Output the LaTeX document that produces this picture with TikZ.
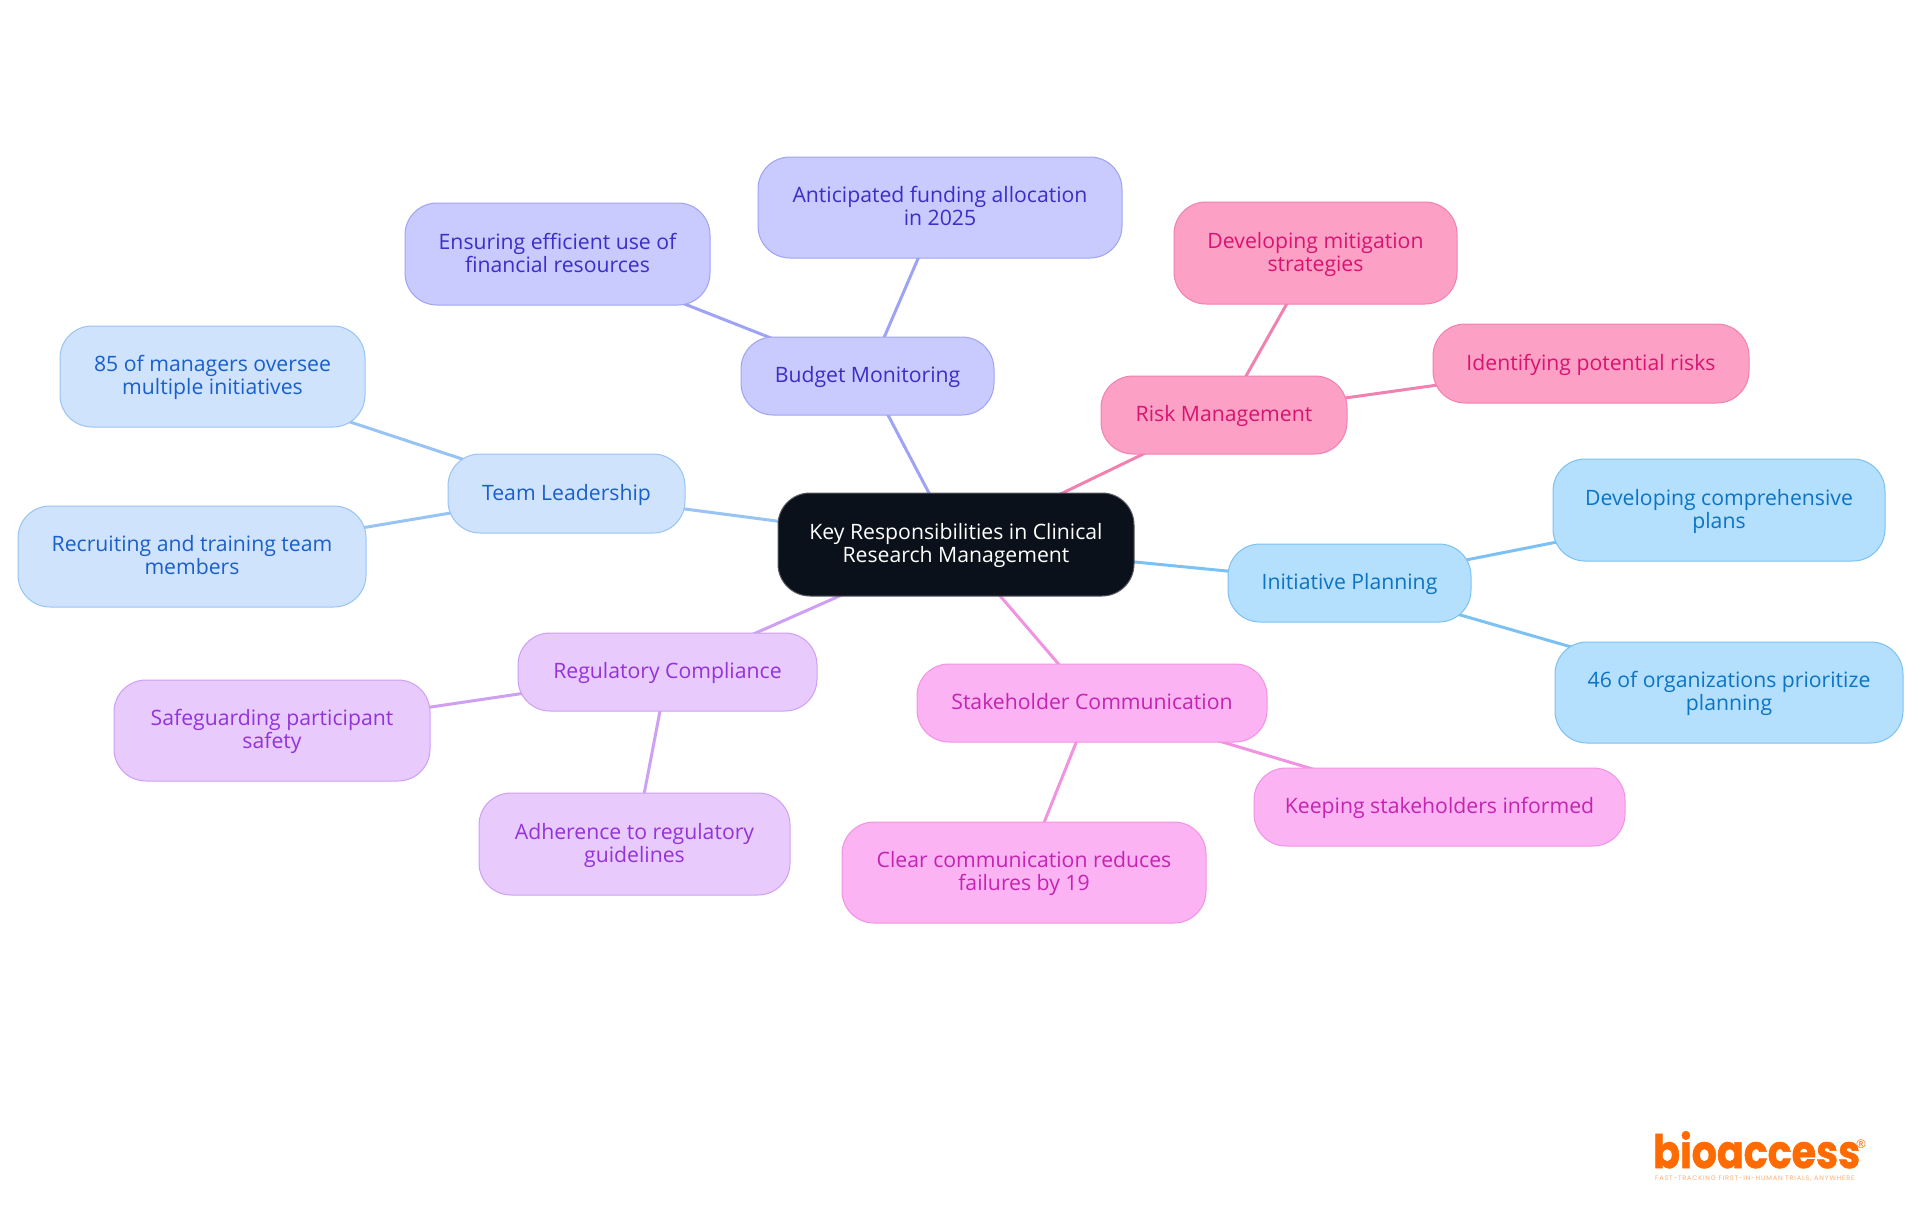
\documentclass[tikz,border=0pt]{standalone}
\usepackage{fontspec}
\setmainfont{Open Sans}
\newfontfamily\logofont[FakeBold=1.2]{Poppins}
\newfontfamily\tagfont[LetterSpace=12]{Poppins}
\usetikzlibrary{backgrounds}
\definecolor{iniF}{HTML}{B4DFFD}\definecolor{iniD}{HTML}{7CC1F3}\definecolor{iniT}{HTML}{0B74C4}
\definecolor{teaF}{HTML}{CFE3FD}\definecolor{teaD}{HTML}{98C3F5}\definecolor{teaT}{HTML}{1B5FCB}
\definecolor{budF}{HTML}{C9CAFD}\definecolor{budD}{HTML}{9EA3F5}\definecolor{budT}{HTML}{3A2FC8}
\definecolor{regF}{HTML}{E8CAFD}\definecolor{regD}{HTML}{CDA0F3}\definecolor{regT}{HTML}{9333DA}
\definecolor{staF}{HTML}{FCB3F4}\definecolor{staD}{HTML}{F193E0}\definecolor{staT}{HTML}{C424B0}
\definecolor{risF}{HTML}{FDA0C6}\definecolor{risD}{HTML}{F081B0}\definecolor{risT}{HTML}{D81470}
\definecolor{cenF}{HTML}{0B111A}\definecolor{cenD}{HTML}{55585E}
\definecolor{logoC}{HTML}{FF6B00}
\tikzset{
 box/.style={rounded corners=32pt,line width=1pt,align=center,inner sep=0pt,font=\fontsize{21.2}{23}\selectfont},
 ini/.style={box,fill=iniF,draw=iniD,text=iniT},
 tea/.style={box,fill=teaF,draw=teaD,text=teaT},
 bud/.style={box,fill=budF,draw=budD,text=budT},
 reg/.style={box,fill=regF,draw=regD,text=regT},
 sta/.style={box,fill=staF,draw=staD,text=staT},
 ris/.style={box,fill=risF,draw=risD,text=risT},
 cen/.style={box,fill=cenF,draw=cenD,text=white},
 lnk/.style={line width=3pt},
}
\newcommand{\bx}[7]{\node[#2,minimum width=#5pt-#3pt,minimum height=#6pt-#4pt] (#1) at ({(#3+#5)/2*1pt},{-(#4+#6)/2*1pt}) {\rule{0pt}{19pt}#7\rule[-5.4pt]{0pt}{5.4pt}};}
\begin{document}
\begin{tikzpicture}[x=1pt,y=1pt]
\useasboundingbox (0,0) rectangle (1920,-1215);
\bx{c}{cen}{778}{493}{1134}{596}{Key Responsibilities in Clinical\\Research Management}
\bx{bud}{bud}{741}{337}{994}{415}{Budget Monitoring}
\bx{bud1}{bud}{758}{157}{1122}{258}{Anticipated funding allocation\\in 2025}
\bx{bud2}{bud}{405}{203}{710}{305}{Ensuring efficient use of\\financial resources}
\bx{tea}{tea}{448}{454}{685}{533}{Team Leadership}
\bx{tea1}{tea}{60}{326}{365}{427}{85 of managers oversee\\multiple initiatives}
\bx{tea2}{tea}{18}{506}{366}{607}{Recruiting and training team\\members}
\bx{ris}{ris}{1101}{376}{1347}{454}{Risk Management}
\bx{ris1}{ris}{1174}{202}{1457}{304}{Developing mitigation\\strategies}
\bx{ris2}{ris}{1433}{324}{1749}{403}{Identifying potential risks}
\bx{ini}{ini}{1228}{544}{1471}{622}{Initiative Planning}
\bx{ini1}{ini}{1553}{459}{1885}{561}{Developing comprehensive\\plans}
\bx{ini2}{ini}{1555}{642}{1903}{743}{46 of organizations prioritize\\planning}
\bx{sta}{sta}{917}{664}{1267}{742}{Stakeholder Communication}
\bx{sta1}{sta}{1254}{768}{1625}{846}{Keeping stakeholders informed}
\bx{sta2}{sta}{842}{822}{1206}{923}{Clear communication reduces\\failures by 19}
\bx{reg}{reg}{518}{633}{817}{711}{Regulatory Compliance}
\bx{reg1}{reg}{114}{680}{430}{781}{Safeguarding participant\\safety}
\bx{reg2}{reg}{479}{793}{790}{895}{Adherence to regulatory\\guidelines}
\begin{scope}[on background layer]
\draw[lnk,budD] (c.center)--(bud.center) (bud.center)--(bud1.center) (bud.center)--(bud2.center);
\draw[lnk,teaD] (c.center)--(tea.center) (tea.center)--(tea1.center) (tea.center)--(tea2.center);
\draw[lnk,risD] (c.center)--(ris.center) (ris.center)--(ris1.center) (ris.center)--(ris2.center);
\draw[lnk,iniD] (c.center)--(ini.center) (ini.center)--(ini1.center) (ini.center)--(ini2.center);
\draw[lnk,staD] (c.center)--(sta.center) (sta.center)--(sta1.center) (sta.center)--(sta2.center);
\draw[lnk,regD] (c.center)--(reg.center) (reg.center)--(reg1.center) (reg.center)--(reg2.center);
\end{scope}
\node[anchor=base west,inner sep=0pt,text=logoC,font=\logofont\bfseries\fontsize{46}{46}\selectfont] (logo) at (1653,-1168) {\scalebox{0.86}[1]{bioaccess}};
\node[anchor=base west,inner sep=0pt,text=logoC,font=\fontsize{12}{12}\selectfont] (logoR) at (1856,-1148) {®};
\node[anchor=base west,inner sep=0pt,text=logoC!55,font=\tagfont\fontsize{6.6}{7}\selectfont] (tag) at (1655,-1180) {FAST-TRACKING FIRST-IN-HUMAN TRIALS, ANYWHERE};
\end{tikzpicture}
\end{document}
